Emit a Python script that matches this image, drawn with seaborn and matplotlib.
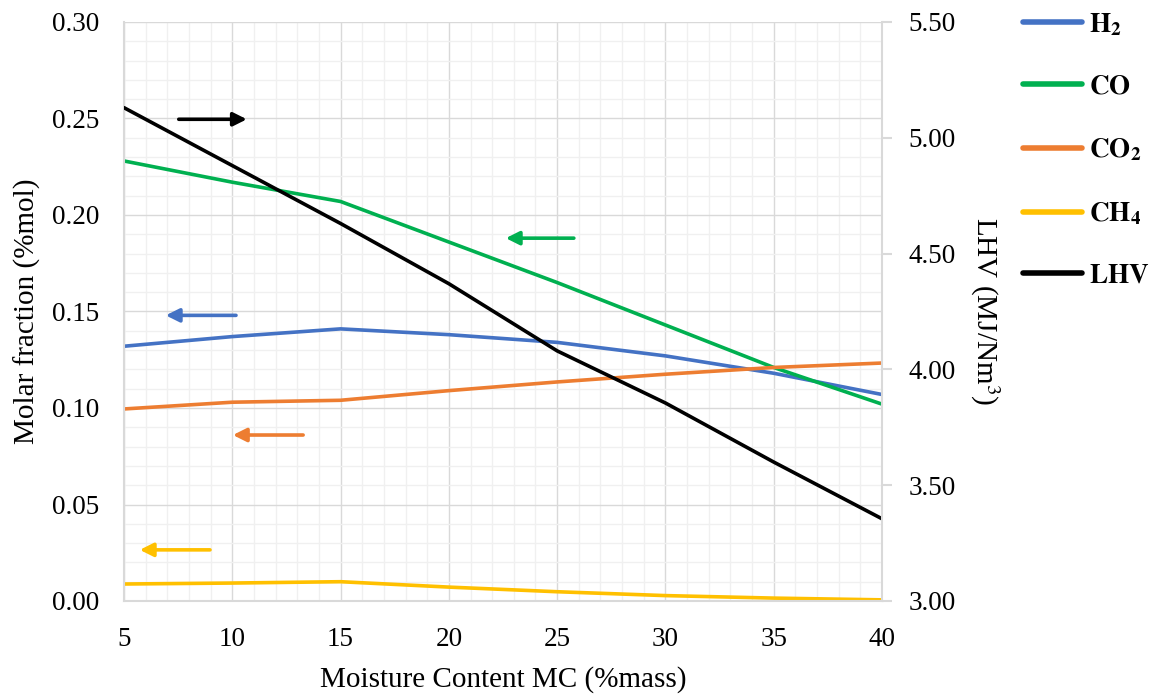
import matplotlib
matplotlib.use("Agg")
import matplotlib.pyplot as plt
import seaborn as sns
import numpy as np
import pandas as pd
from matplotlib.ticker import MultipleLocator, FormatStrFormatter
from matplotlib.lines import Line2D

# ---- data ----
mc = [5, 10, 15, 20, 25, 30, 35, 40]
h2 = [0.132, 0.137, 0.141, 0.138, 0.134, 0.127, 0.118, 0.107]
co = [0.228, 0.217, 0.207, 0.186, 0.165, 0.143, 0.121, 0.102]
co2 = [0.0995, 0.103, 0.104, 0.109, 0.1135, 0.1175, 0.121, 0.1233]
ch4 = [0.0088, 0.0093, 0.0100, 0.0072, 0.0048, 0.0028, 0.0015, 0.0006]
lhv = [5.13, 4.88, 4.63, 4.37, 4.08, 3.855, 3.60, 3.355]

legend_labels = [r"$\mathbf{H_2}$", r"$\mathbf{CO}$", r"$\mathbf{CO_2}$", r"$\mathbf{CH_4}$", r"$\mathbf{LHV}$"]
colors = ["#4472C4", "#00B050", "#ED7D31", "#FFC000", "#000000"]

sns.set_theme(style="white")
plt.rcParams["font.family"] = ["Liberation Serif", "DejaVu Serif"]
plt.rcParams["mathtext.fontset"] = "stix"
for k in ["text.color", "axes.labelcolor", "xtick.color", "ytick.color"]:
    plt.rcParams[k] = "#000000"

fig = plt.figure(figsize=(11.53, 6.98), dpi=100)
ax = fig.add_axes([124/1153, 1 - 601/698, (882-124)/1153, (601-22)/698])
ax2 = ax.twinx()

df = pd.DataFrame({"mc": mc, "h2": h2, "co": co, "co2": co2, "ch4": ch4, "lhv": lhv})
lw = 2.6
for key, col in zip(["h2", "co", "co2", "ch4"], colors[:4]):
    sns.lineplot(data=df, x="mc", y=key, ax=ax, color=col, linewidth=lw)
sns.lineplot(data=df, x="mc", y="lhv", ax=ax2, color=colors[4], linewidth=lw)

ax.set_xlim(5, 40)
ax.set_ylim(0, 0.30)
ax2.set_ylim(3.0, 5.5)

ax.xaxis.set_major_locator(MultipleLocator(5))
ax.xaxis.set_minor_locator(MultipleLocator(1))
ax.yaxis.set_major_locator(MultipleLocator(0.05))
ax.yaxis.set_minor_locator(MultipleLocator(0.01))
ax.yaxis.set_major_formatter(FormatStrFormatter("%.2f"))
ax2.yaxis.set_major_locator(MultipleLocator(0.5))
ax2.yaxis.set_major_formatter(FormatStrFormatter("%.2f"))

ax.grid(which="major", color="#d9d9d9", linewidth=1.0)
ax.grid(which="minor", color="#f0f0f0", linewidth=1.0)
ax.set_axisbelow(True)
ax2.grid(False)

for sp in ["top", "right"]:
    ax.spines[sp].set_visible(False)
for sp in ["top", "left", "bottom"]:
    ax2.spines[sp].set_visible(False)
ax.spines["left"].set_color("#d9d9d9")
ax.spines["bottom"].set_color("#d9d9d9")
ax2.spines["right"].set_color("#d9d9d9")
ax.spines["left"].set_linewidth(1.5)
ax.spines["bottom"].set_linewidth(1.5)
ax2.spines["right"].set_linewidth(1.5)

ax.tick_params(axis="y", which="both", length=0, labelsize=19.5, labelcolor="#000000", pad=18)
ax.tick_params(axis="x", which="both", length=0, labelsize=19.5, labelcolor="#000000", pad=19)
ax2.tick_params(axis="y", which="major", length=7, width=1.5, color="#d9d9d9",
                labelcolor="#000000", labelsize=19.5, pad=12)
ax2.tick_params(axis="y", which="minor", length=0)

ax.set_xlabel("Moisture Content MC (%mass)", fontsize=21, labelpad=10, color="#000000")
ax.set_ylabel("Molar fraction (%mol)", fontsize=21, labelpad=8, color="#000000")
ax2.set_ylabel("LHV (MJ/Nm$^3$)", fontsize=21, rotation=270, labelpad=33, color="#000000")

# direction arrows
arrow_kw = dict(arrowstyle="-|>", lw=2.6, mutation_scale=20)
def arrow(axis, x0, y0, x1, y1, c):
    axis.annotate("", xy=(x1, y1), xytext=(x0, y0),
                  arrowprops=dict(color=c, **arrow_kw))
arrow(ax2, 7.4, 5.08, 10.8, 5.08, colors[4])
arrow(ax, 25.9, 0.188, 22.5, 0.188, colors[1])
arrow(ax, 10.3, 0.148, 6.8, 0.148, colors[0])
arrow(ax, 13.4, 0.086, 9.9, 0.086, colors[2])
arrow(ax, 9.1, 0.0265, 5.6, 0.0265, colors[3])

# legend
hs = [Line2D([0], [0], color=c, lw=4) for c in colors]
leg = fig.legend(hs, legend_labels, loc="upper left", bbox_to_anchor=(1012/1153, 1 - 0/698),
                 frameon=False, fontsize=19.5, handlelength=2.2, labelspacing=1.36,
                 handletextpad=0.25, borderaxespad=0, borderpad=0.4)

fig.savefig("out.png", dpi=100)
